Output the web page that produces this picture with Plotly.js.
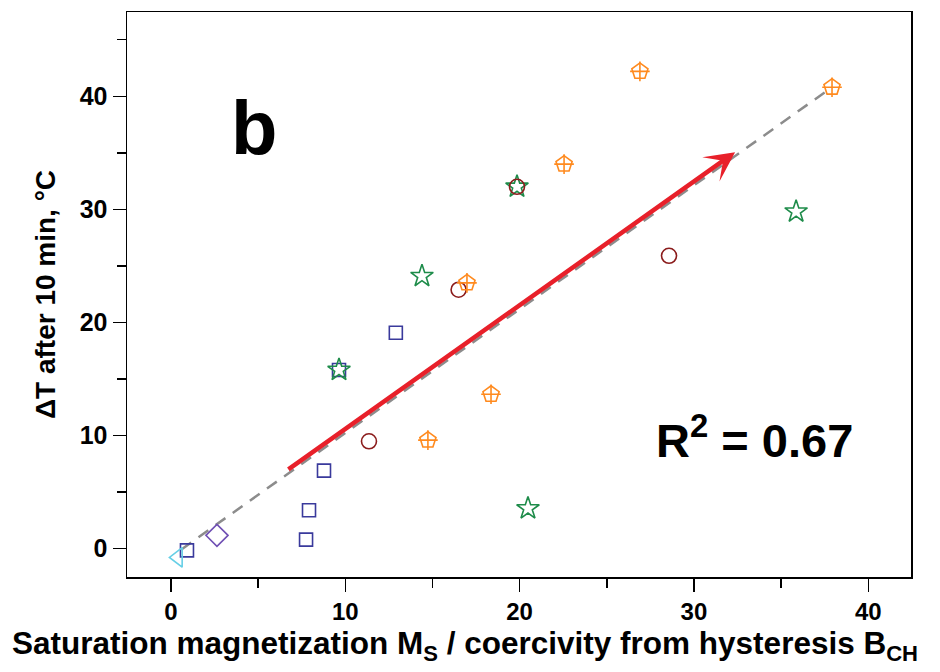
<!DOCTYPE html>
<html>
<head>
<meta charset="utf-8">
<script src="https://cdn.plot.ly/plotly-3.0.1.min.js"></script>
<style>html,body{margin:0;padding:0;background:#fff;}#chart{width:940px;height:672px;}</style>
</head>
<body>
<div id="chart"></div>
<script>
// Data
var squaresX = [0.92, 7.75, 7.92, 8.78, 9.64, 12.9];
var squaresY = [-0.15, 0.8, 3.4, 6.9, 15.8, 19.1];
var diamondX = [2.64];
var diamondY = [1.18];
var triangleX = [0.4];
var triangleY = [-0.77];
var circlesX = [11.36, 16.5, 19.85, 28.57];
var circlesY = [9.5, 22.9, 32.0, 25.9];
var starsX = [9.64, 14.4, 19.85, 20.48, 35.86];
var starsY = [15.8, 24.1, 32.0, 3.56, 29.8];
var pentagonsX = [14.74, 16.98, 18.36, 22.55, 26.9, 37.92];
var pentagonsY = [9.6, 23.5, 13.65, 34.0, 42.2, 40.8];
var fitX = [0.6, 37.92];
var fitY = [-0.06, 40.8];
var arrowStart = [6.65, 6.92];
var arrowEnd = [32.36, 35.05];
var xTicks = [0, 10, 20, 30, 40];
var yTicks = [0, 10, 20, 30, 40];
var xTitle = 'Saturation magnetization M<sub>S</sub> / coercivity from hysteresis B<sub>CH</sub>';
var yTitle = '\u0394T after 10 min, \u00B0C';

var FONT = '"Liberation Sans", Arial, sans-serif';

var traces = [
  {x: fitX, y: fitY, mode: 'lines', line: {color: '#8c8c8c', width: 2.5, dash: '12px,9px'}, hoverinfo: 'skip'},
  {x: squaresX, y: squaresY, mode: 'markers', marker: {symbol: 'square-open', size: 13, color: '#3a3a9c', line: {width: 1.6}}},
  {x: diamondX, y: diamondY, mode: 'markers', marker: {symbol: 'diamond-open', size: 17, color: '#7050b4', line: {width: 1.6}}},
  {x: starsX, y: starsY, mode: 'markers', marker: {symbol: 'star-open', size: 17, color: '#1e8c4a', line: {width: 1.6}}},
  {x: circlesX, y: circlesY, mode: 'markers', marker: {symbol: 'circle-open', size: 15, color: '#8b1c1c', line: {width: 1.6}}},
  {x: pentagonsX, y: pentagonsY, mode: 'markers', marker: {symbol: 'pentagon-open', size: 17, color: '#ff8a1e', line: {width: 1.6}}},
  {x: pentagonsX, y: pentagonsY, mode: 'markers', marker: {symbol: 'cross-thin-open', size: 14, color: '#ff8a1e', line: {width: 1.6}}},
  {x: triangleX, y: triangleY, mode: 'markers', marker: {symbol: 'triangle-left-open', size: 17, color: '#66cfe6', line: {width: 1.6}}}
];

var layout = {
  width: 940, height: 672,
  margin: {l: 127, r: 29, t: 12, b: 95},
  paper_bgcolor: '#ffffff', plot_bgcolor: '#ffffff',
  showlegend: false,
  font: {family: FONT, color: '#000'},
  xaxis: {
    range: [-2.52, 42.45], tickvals: xTicks, ticktext: xTicks.map(String),
    ticks: 'outside', ticklen: 13, tickwidth: 1.5, tickcolor: '#000',
    minor: {ticks: 'outside', ticklen: 9, tickwidth: 1.5, tickcolor: '#000', dtick: 5, tick0: 0, showgrid: false},
    showline: true, linecolor: '#000', linewidth: 1.5, mirror: true,
    showgrid: false, zeroline: false,
    tickfont: {family: FONT, size: 24, color: '#000', weight: 'bold'}
  },
  yaxis: {
    range: [-2.5, 47.45], tickvals: yTicks, ticktext: yTicks.map(String),
    ticks: 'outside', ticklen: 13, tickwidth: 1.5, tickcolor: '#000',
    minor: {ticks: 'outside', ticklen: 9, tickwidth: 1.5, tickcolor: '#000', dtick: 5, tick0: 0, showgrid: false},
    showline: true, linecolor: '#000', linewidth: 1.5, mirror: true,
    showgrid: false, zeroline: false,
    tickfont: {family: FONT, size: 25, color: '#000', weight: 'bold'},
    title: {text: yTitle, font: {family: FONT, size: 28, color: '#000', weight: 'bold'}, standoff: 16}
  },
  annotations: [
    {x: arrowEnd[0], y: arrowEnd[1], ax: arrowStart[0], ay: arrowStart[1], xref: 'x', yref: 'y', axref: 'x', ayref: 'y',
     showarrow: true, arrowhead: 3, arrowsize: 1.1, arrowwidth: 4.5, arrowcolor: '#e8202a', text: ''},
    {x: 0.162, y: 0.795, xref: 'paper', yref: 'paper', xanchor: 'center', yanchor: 'middle', text: 'b', showarrow: false,
     font: {family: FONT, size: 76, color: '#000', weight: 'bold'}},
    {x: 0.80, y: 0.247, xref: 'paper', yref: 'paper', xanchor: 'center', yanchor: 'middle', text: 'R<sup>2</sup> = 0.67', showarrow: false,
     font: {family: FONT, size: 47, color: '#000', weight: 'bold'}},
    {x: 0.431, y: -0.121, xref: 'paper', yref: 'paper', xanchor: 'center', yanchor: 'middle', text: xTitle, showarrow: false,
     font: {family: FONT, size: 31.5, color: '#000', weight: 'bold'}}
  ]
};

Plotly.newPlot('chart', traces, layout, {staticPlot: true, displayModeBar: false});
</script>
</body>
</html>
